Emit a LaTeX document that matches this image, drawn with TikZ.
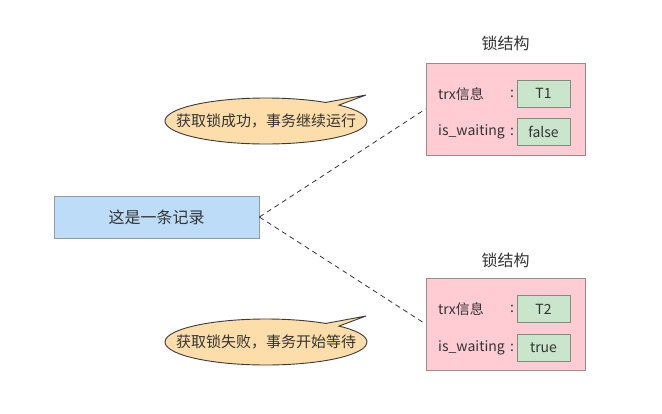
\documentclass[tikz,border=0pt]{standalone}
\usepackage{fontspec}
\setmainfont{Noto Sans CJK SC}
\usetikzlibrary{shapes.callouts}
\definecolor{txt}{HTML}{333333}
\definecolor{recfill}{HTML}{BDDCF8}
\definecolor{recdraw}{HTML}{8E9BAA}
\definecolor{lockfill}{HTML}{FFCCD3}
\definecolor{lockdraw}{HTML}{9C8C8E}
\definecolor{valfill}{HTML}{C9E5CB}
\definecolor{valdraw}{HTML}{7E8C80}
\definecolor{bubfill}{HTML}{FDDDAA}
\definecolor{bubdraw}{HTML}{3A3A3A}
\tikzset{
  record/.style={draw=recdraw, fill=recfill, line width=0.8pt, minimum width=205pt, minimum height=42pt, inner sep=0pt, text=txt, font=\fontsize{16}{18}\selectfont},
  lockbox/.style={draw=lockdraw, fill=lockfill, line width=0.8pt, minimum width=159pt, minimum height=92pt, inner sep=0pt},
  valbox/.style={draw=valdraw, fill=valfill, line width=0.8pt, minimum width=53pt, minimum height=27pt, inner sep=0pt, text=txt, font=\fontsize{14}{16}\selectfont},
  lbl/.style={text=txt, font=\fontsize{14}{16}\selectfont, inner sep=0pt},
  ttl/.style={text=txt, font=\fontsize{16}{18}\selectfont, inner sep=0pt},
  bubble/.style={ellipse callout, draw=bubdraw, fill=bubfill, line width=0.9pt, minimum width=202pt, minimum height=46pt, inner sep=0pt, callout pointer arc=10},
  bubtext/.style={text=txt, font=\fontsize{15}{17}\selectfont, inner sep=0pt},
  conn/.style={draw=txt, line width=0.8pt, dash pattern=on 5pt off 4pt}
}
\begin{document}
\begin{tikzpicture}[x=1pt,y=-1pt]
\useasboundingbox (0,0) rectangle (662,413);
% record
\node[record] (rec) at (156.5,217) {这是一条记录};
% lock 1
\node[lockbox] (lock1) at (505.5,109) {};
\node[ttl] (t1) at (505.5,43) {锁结构};
\node[lbl, anchor=west] (k11) at (438,94) {trx信息};
\node[lbl] (c11) at (512,94) {:};
\node[valbox] (v11) at (543.5,93.5) {T1};
\node[lbl, anchor=west] (k12) at (438,132) {is\_waiting};
\node[lbl] (c12) at (512,132) {:};
\node[valbox] (v12) at (543.5,131.5) {false};
% lock 2
\node[lockbox] (lock2) at (505.5,324) {};
\node[ttl] (t2) at (505.5,260) {锁结构};
\node[lbl, anchor=west] (k21) at (438,309) {trx信息};
\node[lbl] (c21) at (512,309) {:};
\node[valbox] (v21) at (543.5,309) {T2};
\node[lbl, anchor=west] (k22) at (438,348) {is\_waiting};
\node[lbl] (c22) at (512,348) {:};
\node[valbox] (v22) at (543.5,348) {true};
% callouts
\coordinate (p1) at (366,95);
\coordinate (p2) at (366,316);
\node[bubble, callout absolute pointer={(p1)}] (b1) at (266,121) {};
\node[bubtext] (b1t) at (b1.center) {获取锁成功，事务继续运行};
\node[bubble, callout absolute pointer={(p2)}] (b2) at (266,342) {};
\node[bubtext] (b2t) at (b2.center) {获取锁失败，事务开始等待};
% connectors
\draw[conn] (rec.east) -- (lock1.west);
\draw[conn] (rec.east) -- (lock2.west);
\end{tikzpicture}
\end{document}
